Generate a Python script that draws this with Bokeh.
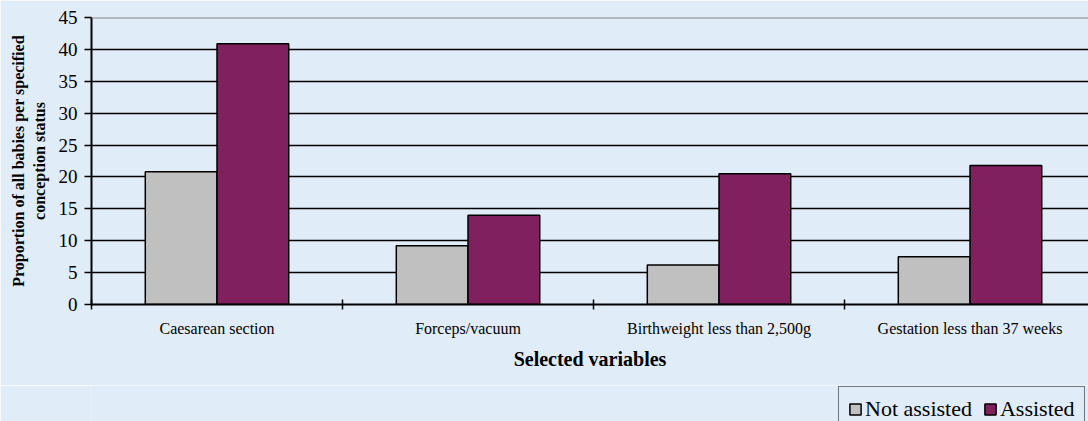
import numpy as np
from bokeh.plotting import figure
from bokeh.layouts import column
from bokeh.models import Range1d, FixedTicker, Legend, LegendItem, Span
from bokeh.embed import file_html
from bokeh.resources import INLINE

# ---- data ----
categories = ["Caesarean section", "Forceps/vacuum",
              "Birthweight less than 2,500g", "Gestation less than 37 weeks"]
not_assisted = [20.8, 9.2, 6.2, 7.5]
assisted = [40.9, 14.0, 20.5, 21.8]
series_names = ["Not assisted", "Assisted"]
y_ticks = [0, 5, 10, 15, 20, 25, 30, 35, 40, 45]
x_title = "Selected variables"
y_title = "Proportion of all babies per specified\nconception status"

# ---- style ----
BG = "#E0ECF8"
GRAY = "#C0C0C0"
MAROON = "#80205F"
FONT = "Liberation Serif"

idx = np.arange(len(categories))
bw = 1 / 3.5
x_rng = Range1d(0, 3.972)

p = figure(width=1088, height=385, output_backend="svg", toolbar_location=None,
           x_range=x_rng, y_range=Range1d(0, 45),
           min_border_left=91, min_border_right=0, min_border_top=17,
           min_border_bottom=81,
           background_fill_color=BG, border_fill_color=BG,
           outline_line_color=None)

# grid
p.xgrid.visible = False
p.ygrid.ticker = FixedTicker(ticks=y_ticks[:-1])
p.ygrid.grid_line_color = "black"
p.ygrid.grid_line_width = 1.5

p.add_layout(Span(location=y_ticks[-1], dimension="width",
                  line_color="#808080", line_width=2))

p.vbar(x=idx + 0.5 - bw / 2, top=not_assisted, width=bw,
       fill_color=GRAY, line_color="black", line_width=1.5)
p.vbar(x=idx + 0.5 + bw / 2, top=assisted, width=bw,
       fill_color=MAROON, line_color="black", line_width=1.5)

# x axis
xa = p.xaxis[0]
xa.ticker = FixedTicker(ticks=list(idx + 0.5), minor_ticks=list(idx))
xa.major_label_overrides = {float(i + 0.5): c for i, c in enumerate(categories)}
xa.major_tick_in = 0
xa.major_tick_out = 0
xa.minor_tick_in = 5
xa.minor_tick_out = 5
xa.minor_tick_line_color = "black"
xa.minor_tick_line_width = 1.5
xa.axis_line_color = "black"
xa.axis_line_width = 2
xa.major_label_text_font = FONT
xa.major_label_text_font_size = "16px"
xa.major_label_text_color = "black"
xa.major_label_standoff = 10
xa.axis_label = x_title
xa.axis_label_text_font = FONT
xa.axis_label_text_font_size = "20px"
xa.axis_label_text_font_style = "bold"
xa.axis_label_text_color = "black"
xa.axis_label_standoff = 8

# y axis
ya = p.yaxis[0]
ya.ticker = FixedTicker(ticks=y_ticks)
ya.major_tick_in = 0
ya.major_tick_out = 7
ya.major_tick_line_color = "black"
ya.major_tick_line_width = 1.5
ya.minor_tick_line_color = None
ya.axis_line_color = "black"
ya.axis_line_width = 2
ya.major_label_text_font = FONT
ya.major_label_text_font_size = "19px"
ya.major_label_text_color = "black"
ya.major_label_standoff = 7
ya.axis_label = y_title
ya.axis_label_text_font = FONT
ya.axis_label_text_font_size = "16px"
ya.axis_label_text_font_style = "bold"
ya.axis_label_text_color = "black"
ya.axis_label_standoff = 8

# ---- legend strip: same series as hidden renderers, legend only ----
p2 = figure(width=1088, height=36, output_backend="svg", toolbar_location=None,
            x_range=x_rng, y_range=Range1d(0, 45),
            x_axis_location=None, y_axis_location=None,
            min_border_left=91, min_border_right=0, min_border_top=0,
            min_border_bottom=0,
            background_fill_color=BG, border_fill_color=BG,
            outline_line_color=None)
p2.xgrid.visible = False
p2.ygrid.visible = False
g1 = p2.vbar(x=idx + 0.5 - bw / 2, top=not_assisted, width=bw,
             fill_color=GRAY, line_color="black", line_width=1.5)
g2 = p2.vbar(x=idx + 0.5 + bw / 2, top=assisted, width=bw,
             fill_color=MAROON, line_color="black", line_width=1.5)
g1.visible = False
g2.visible = False

legend = Legend(items=[LegendItem(label=series_names[0], renderers=[g1]),
                       LegendItem(label=series_names[1], renderers=[g2])],
                location=(747, -11), orientation="horizontal",
                click_policy="none",
                label_text_font=FONT, label_text_font_size="22px",
                label_text_color="black",
                glyph_width=14, glyph_height=14, label_standoff=3,
                spacing=11, padding=9, margin=0,
                border_line_color="black", border_line_width=1.5,
                background_fill_color=BG, background_fill_alpha=1)
p2.add_layout(legend)

layout = column(p, p2, spacing=0)
open("out.html", "w").write(file_html(layout, INLINE))
